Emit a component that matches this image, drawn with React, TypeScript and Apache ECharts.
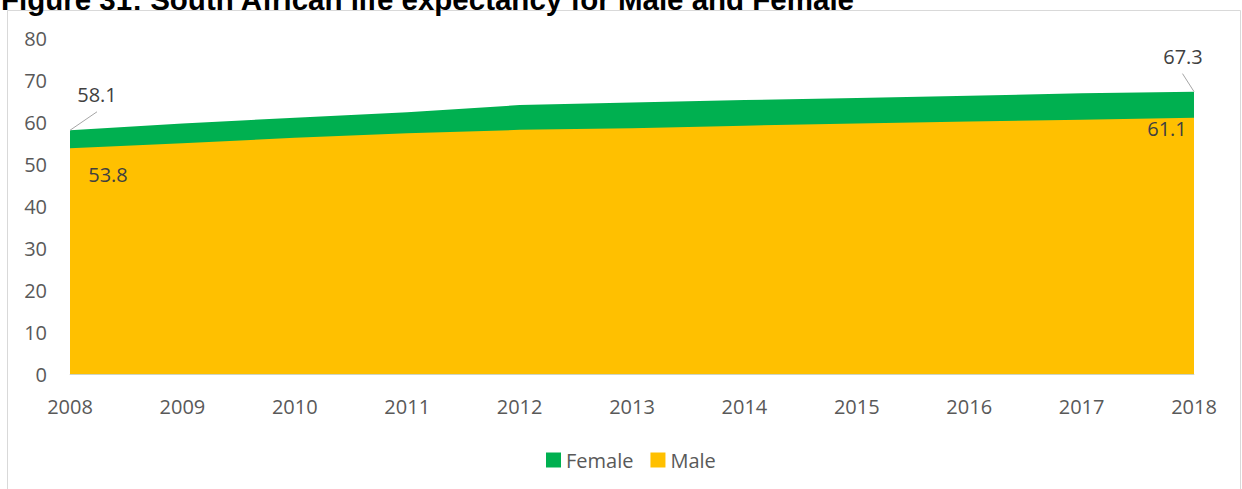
import React, { useEffect, useRef } from "react";
import * as echarts from "echarts";

const titleText = "Figure 31: South African life expectancy for Male and Female";
const years = ["2008", "2009", "2010", "2011", "2012", "2013", "2014", "2015", "2016", "2017", "2018"];
const female = [58.1, 59.7, 61.1, 62.4, 64.1, 64.7, 65.3, 65.8, 66.3, 66.9, 67.3];
const male = [53.8, 55.0, 56.3, 57.4, 58.2, 58.6, 59.2, 59.7, 60.2, 60.6, 61.1];

const FONT = "'Open Sans', sans-serif";
const GREEN = "#00B050";
const YELLOW = "#FFC000";

function withEndLabels(values: number[], firstOffset: number[], lastOffset: number[]) {
  const last = values.length - 1;
  return values.map((v, i) => {
    if (i === 0 || i === last) {
      return {
        value: v,
        label: {
          show: true,
          position: "inside",
          offset: i === 0 ? firstOffset : lastOffset,
          fontFamily: FONT,
          fontSize: 20,
          color: "#404040",
          formatter: (p: any) => Number(p.value).toFixed(1),
        },
      };
    }
    return v;
  });
}

export default function App() {
  const ref = useRef<HTMLDivElement>(null);
  useEffect(() => {
    const chart = echarts.init(ref.current!, null, { renderer: "svg" });
    const baseGraphic: any[] = [
      {
        id: "border",
        type: "rect",
        z: -10,
        shape: { x: 7.5, y: 10.5, width: 1233, height: 500 },
        style: { fill: "none", stroke: "#d9d9d9", lineWidth: 1 },
        silent: true,
      },
      {
        id: "title",
        type: "text",
        x: 1,
        y: -16,
        style: {
          text: titleText,
          font: "bold 29.5px 'Liberation Sans', Arial, sans-serif",
          fill: "#000000",
          verticalAlign: "top",
        },
        silent: true,
      },
    ];
    chart.setOption({
      animation: false,
      backgroundColor: "#ffffff",
      graphic: baseGraphic,
      grid: { left: 70, right: 48, top: 38.3, bottom: 114.7, containLabel: false },
      legend: {
        data: ["Female", "Male"],
        left: 541,
        top: 445,
        icon: "rect",
        itemWidth: 15,
        itemHeight: 15,
        itemGap: 17,
        textStyle: { fontFamily: FONT, fontSize: 20, color: "#595959" },
      },
      xAxis: {
        type: "category",
        data: years,
        boundaryGap: false,
        axisLine: { lineStyle: { color: "#d9d9d9", width: 1 } },
        axisTick: { show: false },
        axisLabel: { fontFamily: FONT, fontSize: 20, color: "#595959", margin: 22 },
      },
      yAxis: {
        type: "value",
        min: 0,
        max: 80,
        interval: 10,
        splitLine: { show: false },
        axisLine: { show: false },
        axisTick: { show: false },
        axisLabel: { fontFamily: FONT, fontSize: 20, color: "#595959", margin: 23 },
      },
      series: [
        {
          name: "Female",
          type: "line",
          data: withEndLabels(female, [27, -36], [-11, -35]),
          showSymbol: true,
          symbol: "circle",
          symbolSize: 0.1,
          itemStyle: { color: GREEN },
          lineStyle: { width: 0, color: GREEN },
          areaStyle: { color: GREEN, opacity: 1 },
        },
        {
          name: "Male",
          type: "line",
          data: withEndLabels(male, [38, 26], [-27, 11]),
          showSymbol: true,
          symbol: "circle",
          symbolSize: 0.1,
          itemStyle: { color: YELLOW },
          lineStyle: { width: 0, color: YELLOW },
          areaStyle: { color: YELLOW, opacity: 1 },
        },
      ],
    });
    const last = female.length - 1;
    const a = chart.convertToPixel({ gridIndex: 0 }, [0, female[0]]) as number[];
    const b = chart.convertToPixel({ gridIndex: 0 }, [last, female[last]]) as number[];
    chart.setOption({
      graphic: [
        ...baseGraphic,
        {
          id: "lead1",
          type: "line",
          shape: { x1: a[0], y1: a[1], x2: a[0] + 27, y2: a[1] - 18.5 },
          style: { stroke: "#a6a6a6", lineWidth: 1 },
          z: 10,
          silent: true,
        },
        {
          id: "lead2",
          type: "line",
          shape: { x1: b[0], y1: b[1], x2: b[0] - 11.5, y2: b[1] - 18 },
          style: { stroke: "#a6a6a6", lineWidth: 1 },
          z: 10,
          silent: true,
        },
      ],
    });
    return () => chart.dispose();
  }, []);
  return (
    <div
      ref={ref}
      style={{ position: "fixed", left: 0, top: 0, width: 1242, height: 489, background: "#fff" }}
    />
  );
}
